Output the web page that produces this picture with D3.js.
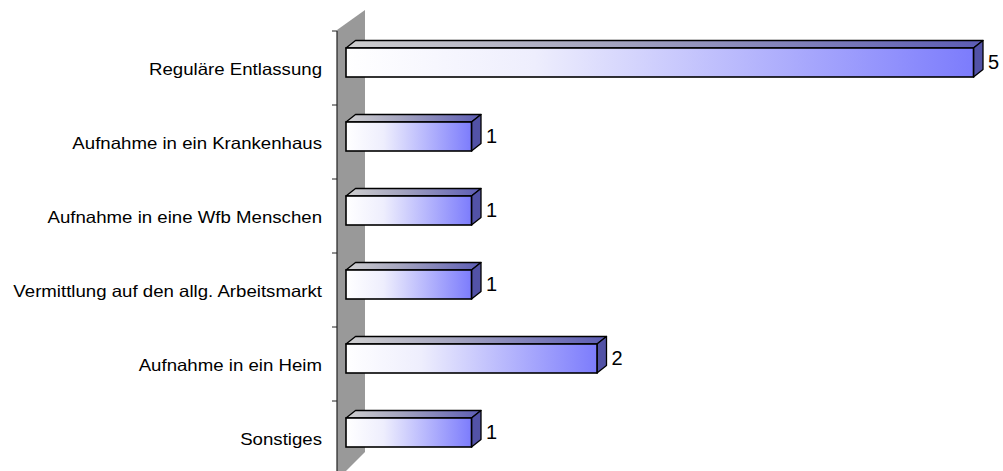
<!DOCTYPE html>
<html>
<head>
<meta charset="utf-8">
<script src="https://cdn.jsdelivr.net/npm/d3@7"></script>
<style>
html,body{margin:0;padding:0;background:#fff;}
svg{display:block;}
text{font-family:"Liberation Sans",Arial,sans-serif;fill:#000;}
</style>
</head>
<body>
<svg id="chart" width="1003" height="471"></svg>
<script>
const categories = ["Reguläre Entlassung","Aufnahme in ein Krankenhaus","Aufnahme in eine Wfb Menschen","Vermittlung auf den allg. Arbeitsmarkt","Aufnahme in ein Heim","Sonstiges"];
const values = [5,1,1,1,2,1];
const xDomain = [0,5];

const svg = d3.select("#chart");
const W = 1003, H = 471;
const axisX = 337, axisTop = 31, axisBottom = 475;
const wallDx = 28, wallDy = -20;
const barDx = 9.5, barDy = -7.5;

const y = d3.scaleBand().domain(categories).range([axisTop, axisBottom]).padding(0);
const x = d3.scaleLinear().domain(xDomain).range([346, 973.5]);

const defs = svg.append("defs");
const gf = defs.append("linearGradient").attr("id","gFront").attr("x1","0").attr("x2","1").attr("y1","0").attr("y2","0");
gf.append("stop").attr("offset","0").attr("stop-color","#ffffff");
gf.append("stop").attr("offset","0.3").attr("stop-color","#eeeefd");
gf.append("stop").attr("offset","1").attr("stop-color","#7c7cfc");
const gt = defs.append("linearGradient").attr("id","gTop").attr("x1","0").attr("x2","1").attr("y1","0").attr("y2","0");
gt.append("stop").attr("offset","0").attr("stop-color","#cfcfcf");
gt.append("stop").attr("offset","0.4").attr("stop-color","#a6a6c0");
gt.append("stop").attr("offset","1").attr("stop-color","#5c5cb4");

// wall
svg.append("path")
  .attr("d", `M${axisX},${axisTop - 1} L${axisX + wallDx},${axisTop - 1 + wallDy} L${axisX + wallDx},452 L${axisX},480 Z`)
  .attr("fill","#999999");

// axis line + ticks
svg.append("line").attr("x1",axisX).attr("x2",axisX).attr("y1",axisTop).attr("y2",H)
  .attr("stroke","#222").attr("stroke-width",1.2);
const ticks = categories.map(c => y(c)).concat([axisBottom]);
svg.selectAll("line.tick").data(ticks).join("line").attr("class","tick")
  .attr("x1",axisX-5).attr("x2",axisX).attr("y1",d=>d).attr("y2",d=>d)
  .attr("stroke","#222").attr("stroke-width",1);

// category labels
svg.selectAll("text.cat").data(categories).join("text").attr("class","cat")
  .attr("transform", d => `translate(322,${y(d) + y.bandwidth()/2 + 1}) scale(1.13,1)`)
  .attr("text-anchor","end").attr("dominant-baseline","central")
  .style("font-size","16.5px")
  .text(d => d);

// bars
const data = categories.map((c,i)=>({c, v: values[i]}));
const bars = svg.selectAll("g.bar").data(data).join("g").attr("class","bar");
bars.each(function(d){
  const g = d3.select(this);
  const cy = y(d.c) + y.bandwidth()/2;
  const top = cy - 20, h = 29;
  const x0 = x(0), x1 = x(d.v);
  g.append("path")
    .attr("d", `M${x0},${top} L${x0+barDx},${top+barDy} L${x1+barDx},${top+barDy} L${x1},${top} Z`)
    .attr("fill","url(#gTop)").attr("stroke","#000").attr("stroke-width",1.3).attr("stroke-linejoin","round");
  g.append("path")
    .attr("d", `M${x1},${top} L${x1+barDx},${top+barDy} L${x1+barDx},${top+h+barDy} L${x1},${top+h} Z`)
    .attr("fill","#5252a6").attr("stroke","#000").attr("stroke-width",1.3).attr("stroke-linejoin","round");
  g.append("rect").attr("x",x0).attr("y",top).attr("width",x1-x0).attr("height",h)
    .attr("fill","url(#gFront)").attr("stroke","#000").attr("stroke-width",1.6);
  g.append("text").attr("x", x1 + barDx + 5).attr("y", top + h/2 - 1)
    .attr("dominant-baseline","central").style("font-size","20px")
    .text(d.v);
});
</script>
</body>
</html>
